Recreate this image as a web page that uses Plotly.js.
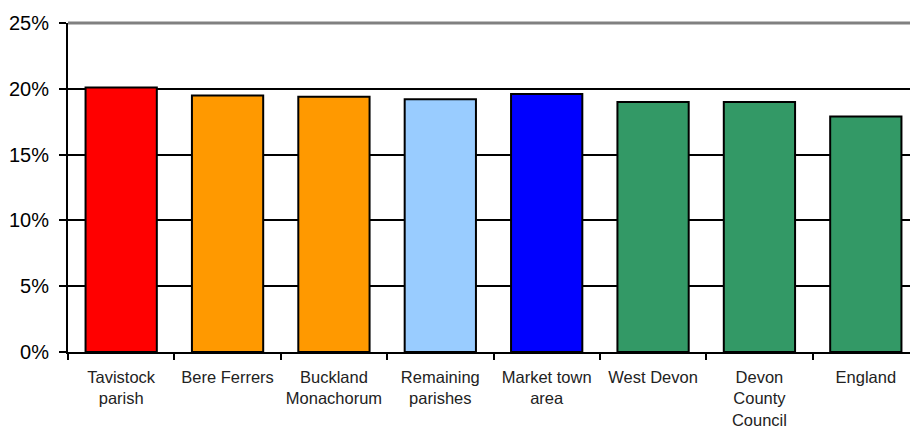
<!DOCTYPE html>
<html>
<head>
<meta charset="utf-8">
<script src="https://cdn.plot.ly/plotly-3.0.1.min.js"></script>
<style>
  html, body { margin: 0; padding: 0; overflow: hidden; background: #fff; }
  #chart { width: 920px; height: 430px; }
</style>
</head>
<body>
<div id="chart"></div>
<script>
// Area names and the share (%) shown for each
const categories = ["Tavistock parish", "Bere Ferrers", "Buckland Monachorum", "Remaining parishes",
                    "Market town area", "West Devon", "Devon County Council", "England"];
const tickLabels = ["Tavistock<br>parish", "Bere Ferrers", "Buckland<br>Monachorum", "Remaining<br>parishes",
                    "Market town<br>area", "West Devon", "Devon<br>County<br>Council", "England"];
const values = [20.1, 19.5, 19.4, 19.2, 19.6, 19.0, 19.0, 17.9];
const barColors = ["#FF0000", "#FF9900", "#FF9900", "#99CCFF", "#0000FF", "#339966", "#339966", "#339966"];
const yTicks = [0, 5, 10, 15, 20, 25];
const yTickText = ["0%", "5%", "10%", "15%", "20%", "25%"];

const trace = {
  type: "bar",
  x: categories,
  y: values,
  marker: { color: barColors, line: { color: "#000", width: 2 } },
  hoverinfo: "skip"
};

const layout = {
  width: 920,
  height: 430,
  margin: { l: 68, r: 1, t: 23, b: 78 },
  paper_bgcolor: "#fff",
  plot_bgcolor: "#fff",
  showlegend: false,
  bargap: 0.33,
  font: { family: "Liberation Sans, Arial, sans-serif", color: "#000" },
  xaxis: {
    type: "category",
    tickvals: categories,
    ticktext: tickLabels,
    tickson: "boundaries",
    ticks: "outside",
    ticklen: 6,
    tickwidth: 2,
    tickcolor: "#000",
    ticklabelstandoff: 9,
    showline: true,
    linecolor: "#000",
    linewidth: 2,
    showgrid: false,
    tickfont: { size: 16.5, family: "Liberation Sans, Arial, sans-serif", color: "#222" },
    fixedrange: true
  },
  yaxis: {
    range: [0, 25],
    tickvals: yTicks,
    ticktext: yTickText,
    ticks: "outside",
    ticklen: 7,
    tickwidth: 2,
    tickcolor: "#000",
    ticklabelstandoff: 6,
    showline: true,
    linecolor: "#000",
    linewidth: 2,
    showgrid: true,
    gridcolor: "#000",
    gridwidth: 2,
    zeroline: false,
    tickfont: { size: 20, family: "Liberation Sans, Arial, sans-serif", color: "#000" },
    fixedrange: true
  },
  // grey rule along the top of the plot area at 25%
  shapes: [{
    type: "line", xref: "paper", yref: "paper",
    x0: 0, x1: 1, y0: 1, y1: 1,
    line: { color: "#808080", width: 3 }
  }]
};

Plotly.newPlot("chart", [trace], layout, { displayModeBar: false, staticPlot: true });
</script>
</body>
</html>
